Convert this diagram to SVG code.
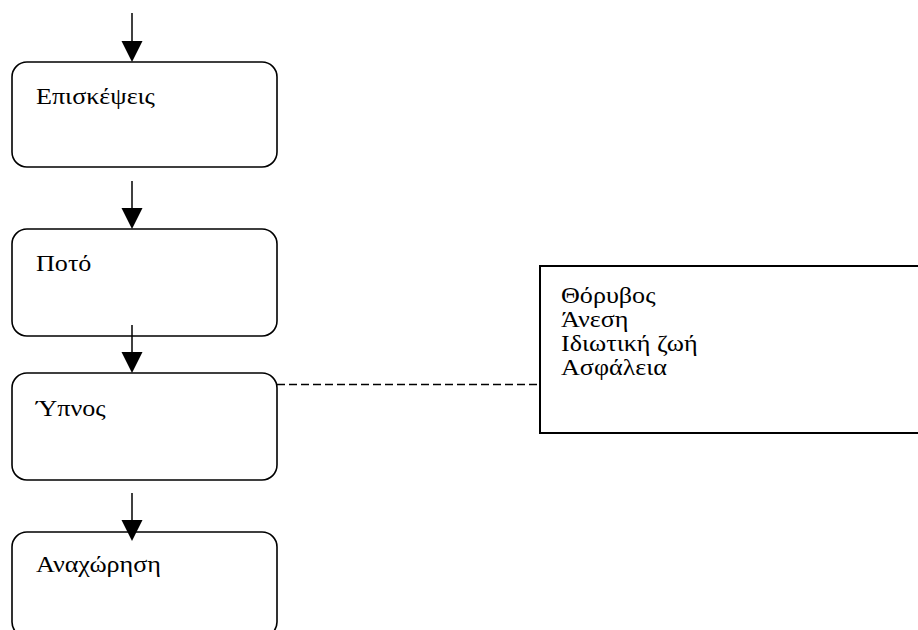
<svg xmlns="http://www.w3.org/2000/svg" width="918" height="630" viewBox="0 0 918 630">
  <style>
    .step { fill: #ffffff; stroke: #000000; stroke-width: 1.6; }
    .note { fill: #ffffff; stroke: #000000; stroke-width: 2; }
    .label { font-family: "Liberation Serif", "Times New Roman", serif; font-size: 22.5px; fill: #000000; }
    .flow { stroke: #000000; stroke-width: 1.5; fill: none; }
    .link { stroke: #000000; stroke-width: 1.5; fill: none; stroke-dasharray: 8 4; }
    .head { fill: #000000; }
  </style>
  <rect width="918" height="630" fill="#ffffff"/>

  <!-- flow steps; labels are set slightly wide -->
  <g id="node-visits">
    <rect class="step" x="12" y="62" width="265" height="105" rx="15" ry="15"/>
    <text class="label" transform="translate(36,104) scale(1.16,1)">Επισκέψεις</text>
  </g>
  <g id="node-drink">
    <rect class="step" x="12" y="229" width="265" height="107" rx="15" ry="15"/>
    <text class="label" transform="translate(36,271) scale(1.16,1)">Ποτό</text>
  </g>
  <g id="node-sleep">
    <rect class="step" x="12" y="373" width="265" height="107" rx="15" ry="15"/>
    <text class="label" transform="translate(36,416) scale(1.16,1)">Ύπνος</text>
  </g>
  <g id="node-departure">
    <rect class="step" x="12" y="532" width="265" height="105" rx="15" ry="15"/>
    <text class="label" transform="translate(36,572) scale(1.16,1)">Αναχώρηση</text>
  </g>

  <!-- side note -->
  <g id="node-factors">
    <rect class="note" x="540" y="266" width="400" height="167"/>
    <text class="label" transform="translate(561,303) scale(1.16,1)">Θόρυβος</text>
    <text class="label" transform="translate(561,327) scale(1.16,1)">Άνεση</text>
    <text class="label" transform="translate(561,351) scale(1.16,1)">Ιδιωτική ζωή</text>
    <text class="label" transform="translate(561,375) scale(1.16,1)">Ασφάλεια</text>
  </g>

  <!-- connectors -->
  <g id="connectors">
    <line class="flow" x1="132" y1="13" x2="132" y2="45"/>
    <polygon class="head" points="121.5,41 142.5,41 132,62"/>

    <line class="flow" x1="132" y1="181" x2="132" y2="212"/>
    <polygon class="head" points="121.5,208 142.5,208 132,229"/>

    <line class="flow" x1="132" y1="325" x2="132" y2="356"/>
    <polygon class="head" points="121.5,352 142.5,352 132,373"/>

    <line class="flow" x1="132" y1="493" x2="132" y2="524"/>
    <polygon class="head" points="121.5,520 142.5,520 132,541"/>

    <line class="link" x1="277" y1="384.5" x2="540" y2="384.5"/>
  </g>
</svg>
